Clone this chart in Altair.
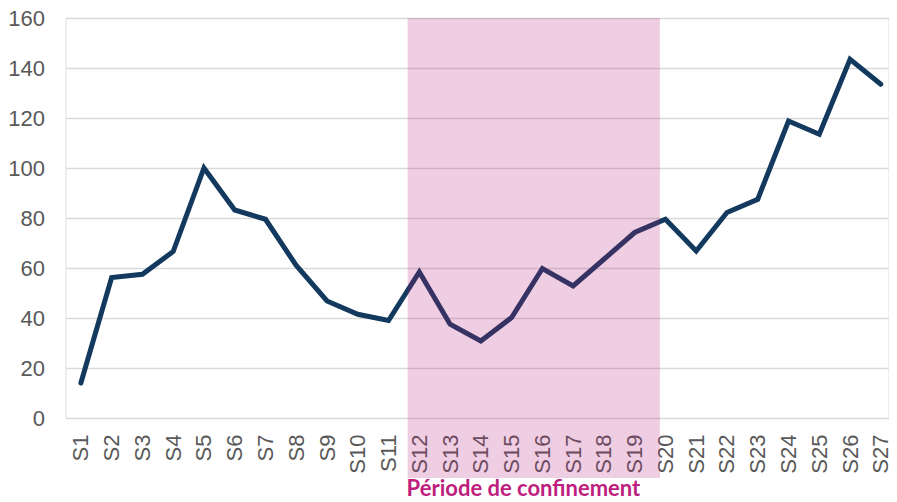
import altair as alt
import pandas as pd

weeks = list(range(1, 28))
week_labels = ["S" + str(i) for i in weeks]
values = [14, 56.2, 57.5, 66.6, 100, 83.2, 79.5, 61, 46.8, 41.5, 39, 58.4, 37.5, 30.8,
          40.2, 59.8, 52.8, 63.5, 74.2, 79.5, 66.8, 82.2, 87.5, 118.8, 113.5, 143.5, 133.5]

band_start = [11.62]
band_end = [19.82]
band_top = [160]
band_bottom = [-24]
band_label = ["Période de confinement"]
label_y = [-31.3]

df = pd.DataFrame({"week": weeks, "label": week_labels, "value": values})
band_df = pd.DataFrame({"x": band_start, "x2": band_end, "y": band_top, "y2": band_bottom,
                        "text": band_label, "ty": label_y})

yscale = alt.Scale(domain=[0, 160], nice=False, zero=False)
xscale = alt.Scale(domain=[0.5, 27.25], nice=False, zero=False)

x_axis = alt.Axis(values=weeks, labelExpr="'S' + datum.value", grid=False,
                  domain=False, ticks=False, labelAngle=270, labelAlign="right",
                  labelBaseline="middle", labelPadding=16, labelFontSize=22,
                  labelColor="#595959", labelFont="Liberation Sans",
                  labelOverlap=False, labelBound=False, labelFlush=False, title=None)
y_axis = alt.Axis(values=list(range(0, 161, 20)), grid=True, gridColor="#D9D9D9",
                  gridWidth=1.5, domain=False, ticks=False, labelFontSize=22,
                  labelColor="#595959", labelFont="Liberation Sans",
                  labelPadding=21, labelOverlap=False, title=None)

line = alt.Chart(df).mark_line(color="#133A5E", strokeWidth=5, strokeCap="round",
                               strokeJoin="miter").encode(
    x=alt.X("week:Q", scale=xscale, axis=x_axis),
    y=alt.Y("value:Q", scale=yscale, axis=y_axis),
)

band = alt.Chart(band_df).mark_rect(color="#B61B7B", opacity=0.22, clip=False).encode(
    x=alt.X("x:Q", scale=xscale, axis=x_axis),
    x2="x2:Q",
    y=alt.Y("y:Q", scale=yscale, axis=y_axis),
    y2="y2:Q",
)

text = alt.Chart(band_df).mark_text(align="left", baseline="alphabetic", font="Lato",
                                    fontWeight="bold", fontSize=22, color="#BE1E7D",
                                    dx=-1, clip=False).encode(
    x=alt.X("x:Q", scale=xscale, axis=x_axis),
    y=alt.Y("ty:Q", scale=yscale, axis=y_axis),
    text="text:N",
)

chart = alt.layer(line, band, text).properties(
    width=823, height=400,
    autosize=alt.AutoSizeParams(type="none"),
    padding={"left": 57.5, "top": 10, "right": 0, "bottom": 84},
).configure_view(stroke=None).configure(background="white").configure_axis(
    labelOverlap=False)

chart.save("out.html", embed_options={"renderer": "svg", "actions": False})
